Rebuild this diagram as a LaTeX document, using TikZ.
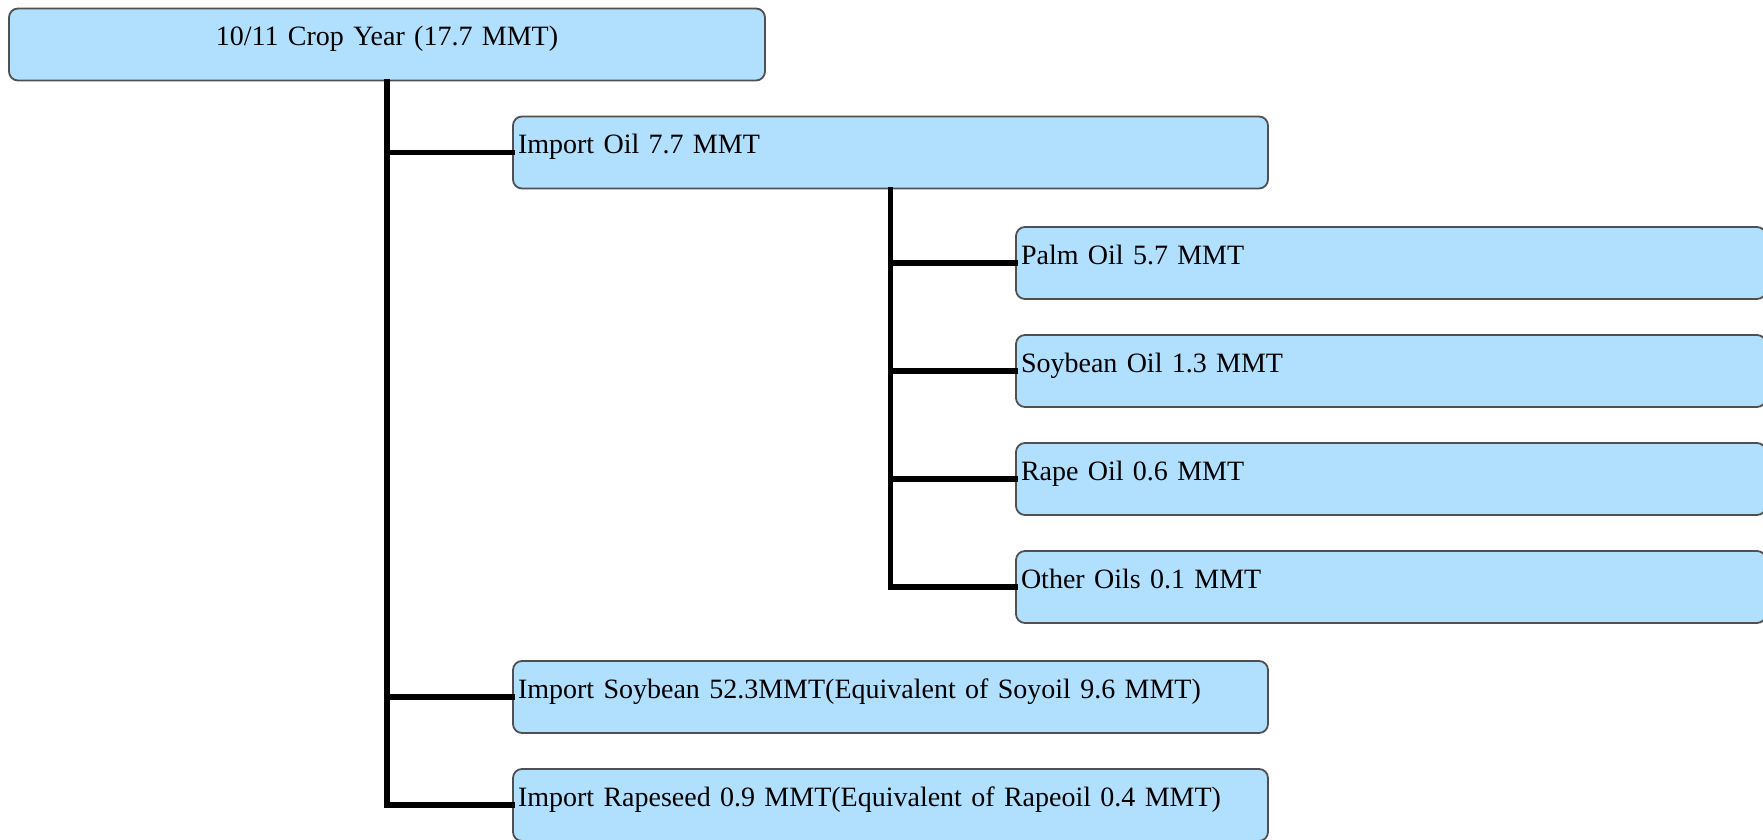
\documentclass[tikz,border=0pt]{standalone}
\usepackage{fontspec}
\setmainfont{Liberation Serif}
\definecolor{boxfill}{RGB}{176,224,253}
\definecolor{boxline}{RGB}{80,80,80}
\begin{document}
\begin{tikzpicture}[x=1pt,y=-1pt,
  box/.style={draw=boxline, fill=boxfill, line width=1.8pt, rounded corners=9pt,
    inner xsep=5pt, inner ysep=0pt, text height=37pt, text depth=35pt,
    font=\fontsize{28}{34}\selectfont},
  lbox/.style={box, align=left},
  conn/.style={line width=5.5pt, line cap=rect}]
\useasboundingbox (0,0) rectangle (1763,840);
\clip (0,0) rectangle (1763,840);
\node[box, text width=746pt, align=center] (top) at (387,44.5) {10/11 Crop Year (17.7 MMT)};
\node[lbox, text width=745pt] (importoil) at (890.5,152.5) {Import Oil 7.7 MMT};
\node[lbox, text width=740pt] (palm) at (1391,263) {Palm Oil 5.7 MMT};
\node[lbox, text width=740pt] (soyoil) at (1391,371) {Soybean Oil 1.3 MMT};
\node[lbox, text width=740pt] (rapeoil) at (1391,479) {Rape Oil 0.6 MMT};
\node[lbox, text width=740pt] (other) at (1391,587) {Other Oils 0.1 MMT};
\node[lbox, text width=745pt] (soybean) at (890.5,697) {Import Soybean 52.3MMT(Equivalent of Soyoil 9.6 MMT)};
\node[lbox, text width=745pt] (rapeseed) at (890.5,805) {Import Rapeseed 0.9 MMT(Equivalent of Rapeoil 0.4 MMT)};
\draw[conn] (top.south) |- (importoil.west);
\draw[conn] (top.south) |- (soybean.west);
\draw[conn] (top.south) |- (rapeseed.west);
\draw[conn] (importoil.south) |- (palm.west);
\draw[conn] (importoil.south) |- (soyoil.west);
\draw[conn] (importoil.south) |- (rapeoil.west);
\draw[conn] (importoil.south) |- (other.west);
\end{tikzpicture}
\end{document}
